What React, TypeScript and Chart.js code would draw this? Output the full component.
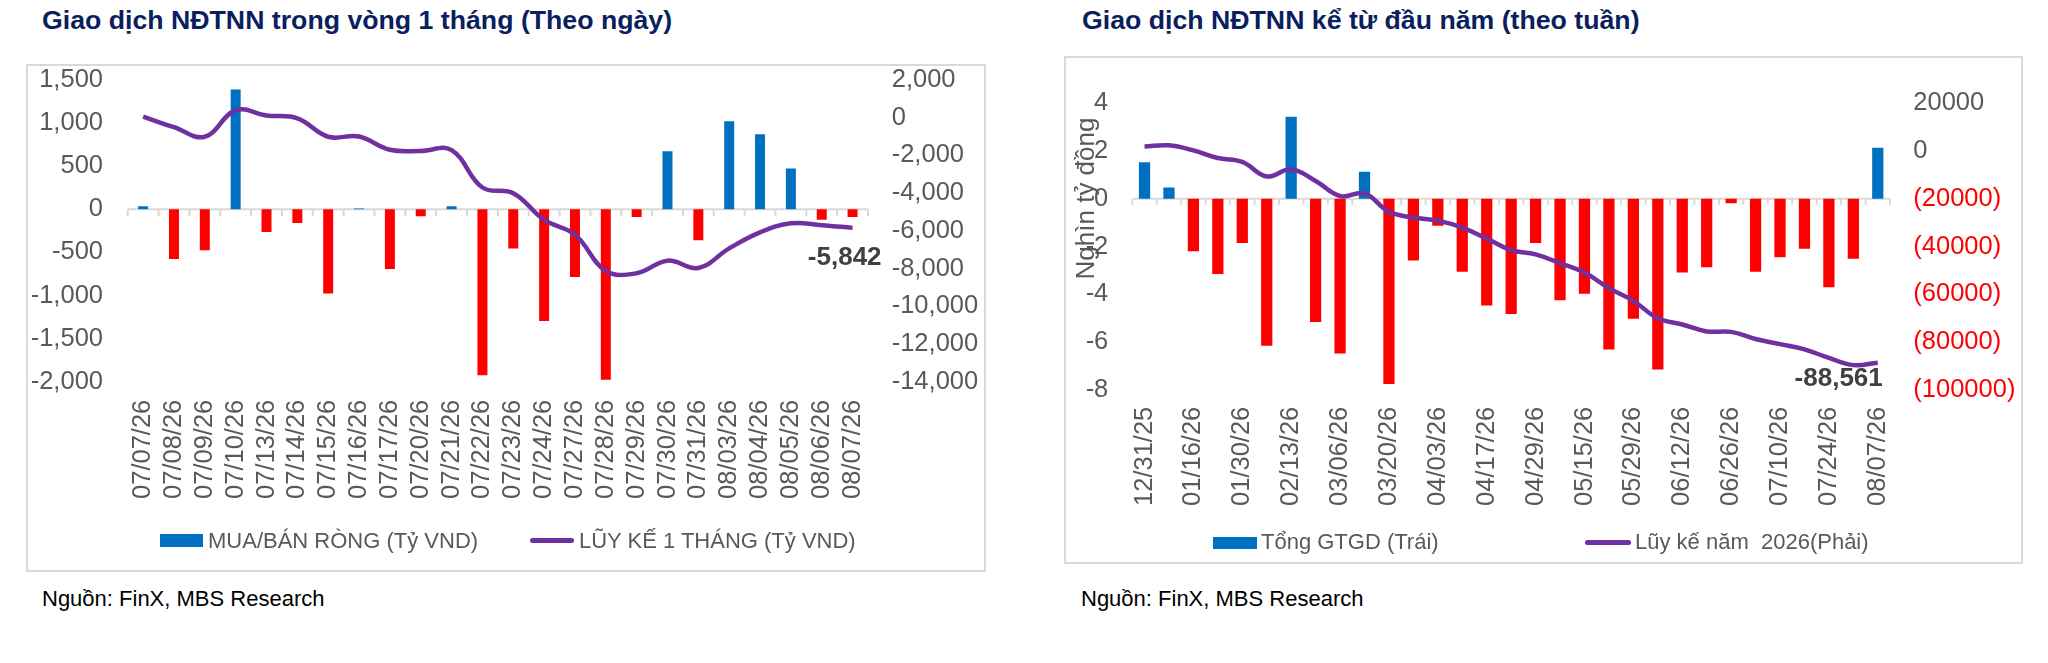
import React, { useEffect, useRef } from "react";
import { Chart, registerables } from "chart.js";

Chart.register(...registerables);

// ---------------- DATA ----------------
const dailyDates = [
  "07/07/26", "07/08/26", "07/09/26", "07/10/26", "07/13/26", "07/14/26",
  "07/15/26", "07/16/26", "07/17/26", "07/20/26", "07/21/26", "07/22/26",
  "07/23/26", "07/24/26", "07/27/26", "07/28/26", "07/29/26", "07/30/26",
  "07/31/26", "08/03/26", "08/04/26", "08/05/26", "08/06/26", "08/07/26",
];
const dailyNet = [
  35, -576, -476, 1389, -263, -159, -978, 8, -692, -81, 35, -1926,
  -456, -1296, -785, -1976, -89, 673, -360, 1021, 870, 472, -120, -89,
];
const dailyCumulative = [
  60, -500, -1010, 390, 115, -30, -1010, -1000, -1700, -1765, -1720, -3700,
  -4000, -5420, -6200, -8120, -8250, -7580, -7970, -6930, -6080, -5600, -5700, -5842,
];
const dailyLeftTicks = [1500, 1000, 500, 0, -500, -1000, -1500, -2000];
const dailyRightTicks = [2000, 0, -2000, -4000, -6000, -8000, -10000, -12000, -14000];

const weeklyDates = [
  "12/31/25", "01/09/26", "01/16/26", "01/23/26", "01/30/26", "02/06/26",
  "02/13/26", "02/27/26", "03/06/26", "03/13/26", "03/20/26", "03/27/26",
  "04/03/26", "04/10/26", "04/17/26", "04/24/26", "04/29/26", "05/08/26",
  "05/15/26", "05/22/26", "05/29/26", "06/05/26", "06/12/26", "06/19/26",
  "06/26/26", "07/03/26", "07/10/26", "07/17/26", "07/24/26", "07/31/26",
  "08/07/26",
];
const weeklyNet = [
  1.52, 0.47, -2.2, -3.15, -1.85, -6.15, 3.43, -5.16, -6.47, 1.13, -7.75,
  -2.59, -1.13, -3.06, -4.47, -4.82, -1.85, -4.25, -3.98, -6.31, -5.02,
  -7.14, -3.09, -2.87, -0.19, -3.06, -2.45, -2.09, -3.7, -2.51, 2.13,
];
const weeklyCumulative = [
  1800, 2300, 200, -3000, -4600, -10700, -7700, -12600, -18900, -17800, -25500,
  -27900, -29200, -32100, -36700, -41500, -43300, -47000, -50900, -57400, -62700,
  -70000, -72600, -75500, -75700, -78700, -80800, -83000, -86600, -89600, -88561,
];
const weeklyLeftTicks = [4, 2, 0, -2, -4, -6, -8];
const weeklyRightTicks = [20000, 0, -20000, -40000, -60000, -80000, -100000];

// ---------------- STYLE ----------------
const FONT = "'Liberation Sans', Arial, Helvetica, sans-serif";
const GRAY = "#595959";
const BLUE = "#0070C0";
const RED = "#FF0000";
const PURPLE = "#7030A0";
const AXIS = "#D9D9D9";
const NAVY = "#0B1F5E";
const LABEL = "#404040";

const fmtComma = (v: number) => Number(v).toLocaleString("en-US");
const fmtParen = (v: number) => (v < 0 ? `(${-v})` : `${v}`);

// ---------------- PLUGINS ----------------
const zeroAxis = {
  id: "zeroAxis",
  beforeDatasetsDraw(chart: any, _a: any, opts: any) {
    const xs = chart.scales.x;
    const ys = chart.scales.y;
    const n = chart.data.labels.length;
    const y0 = ys.getPixelForValue(0);
    const step = xs.getPixelForValue(1) - xs.getPixelForValue(0);
    const ctx = chart.ctx;
    ctx.save();
    ctx.strokeStyle = opts.color;
    ctx.lineWidth = opts.width;
    ctx.beginPath();
    ctx.moveTo(chart.chartArea.left, y0);
    ctx.lineTo(chart.chartArea.right, y0);
    for (let i = 0; i <= n; i++) {
      const px = xs.getPixelForValue(0) - step / 2 + i * step;
      ctx.moveTo(px, y0);
      ctx.lineTo(px, y0 + opts.tick);
    }
    ctx.stroke();
    ctx.restore();
  },
};

const lastLabel = {
  id: "lastLabel",
  afterDatasetsDraw(chart: any, _a: any, opts: any) {
    const meta = chart.getDatasetMeta(opts.datasetIndex);
    const pts = meta.data;
    const el = pts[pts.length - 1];
    const ds = chart.data.datasets[opts.datasetIndex].data;
    const v = ds[ds.length - 1];
    const ctx = chart.ctx;
    ctx.save();
    ctx.font = `bold ${opts.size}px ${FONT}`;
    ctx.fillStyle = LABEL;
    ctx.textAlign = "right";
    ctx.textBaseline = "middle";
    ctx.fillText(fmtComma(v), el.x + opts.dx, el.y + opts.dy);
    ctx.restore();
  },
};

const sideTitle = {
  id: "sideTitle",
  afterDraw(chart: any, _a: any, opts: any) {
    if (!opts || !opts.text) return;
    const ctx = chart.ctx;
    ctx.save();
    ctx.translate(opts.x, chart.chartArea.top + opts.dy);
    ctx.rotate(-Math.PI / 2);
    ctx.font = `${opts.size}px ${FONT}`;
    ctx.fillStyle = GRAY;
    ctx.textAlign = "center";
    ctx.textBaseline = "middle";
    ctx.fillText(opts.text, 0, 0);
    ctx.restore();
  },
};

const tickFont = { family: FONT, size: 25.5, lineHeight: 1 };

function yAxis(position: string, ticks: number[], width: number, gap: number, fmt: any, color: any) {
  return {
    position,
    min: Math.min(...ticks),
    max: Math.max(...ticks),
    grid: { display: false, drawOnChartArea: false, drawTicks: true, tickLength: gap, color: "rgba(0,0,0,0)" },
    border: { display: false },
    ticks: {
      stepSize: Math.abs(ticks[0] - ticks[1]),
      padding: 0,
      color,
      font: tickFont,
      callback: (v: number) => fmt(v),
    },
    afterFit: (s: any) => {
      s.width = width;
    },
  };
}

function xAxis(gap: number, height: number, callback?: any) {
  const ticks: any = {
    autoSkip: false,
    minRotation: 90,
    maxRotation: 90,
    padding: 0,
    color: GRAY,
    font: tickFont,
  };
  if (callback) ticks.callback = callback;
  return {
    grid: { display: false, drawOnChartArea: false, drawTicks: true, tickLength: gap, color: "rgba(0,0,0,0)" },
    border: { display: false },
    ticks,
    afterFit: (s: any) => {
      s.height = height;
    },
  };
}

function dailyConfig(): any {
  return {
    type: "bar",
    data: {
      labels: dailyDates,
      datasets: [
        {
          type: "line",
          label: "LŨY KẾ 1 THÁNG (Tỷ VND)",
          data: dailyCumulative,
          yAxisID: "y1",
          borderColor: PURPLE,
          borderWidth: 4.5,
          pointRadius: 0,
          tension: 0.4,
          fill: false,
          order: 0,
        },
        {
          type: "bar",
          label: "MUA/BÁN RÒNG (Tỷ VND)",
          data: dailyNet,
          yAxisID: "y",
          backgroundColor: dailyNet.map((v) => (v >= 0 ? BLUE : RED)),
          categoryPercentage: 1,
          barPercentage: 0.324,
          order: 1,
        },
      ],
    },
    options: {
      responsive: false,
      animation: false,
      devicePixelRatio: 1,
      layout: { autoPadding: false, padding: { top: 14, left: 0, right: 0, bottom: 0 } },
      plugins: {
        legend: { display: false },
        tooltip: { enabled: false },
        zeroAxis: { color: AXIS, width: 2, tick: 7 },
        lastLabel: { datasetIndex: 0, dx: 29, dy: 30, size: 26 },
      },
      scales: {
        x: xAxis(18, 188.3),
        y: yAxis("left", dailyLeftTicks, 99.7, 24.7, fmtComma, GRAY),
        y1: yAxis("right", dailyRightTicks, 116, 23.7, fmtComma, GRAY),
      },
    },
    plugins: [zeroAxis, lastLabel],
  };
}

function weeklyConfig(): any {
  return {
    type: "bar",
    data: {
      labels: weeklyDates,
      datasets: [
        {
          type: "line",
          label: "Lũy kế năm  2026(Phải)",
          data: weeklyCumulative,
          yAxisID: "y1",
          borderColor: PURPLE,
          borderWidth: 4.5,
          pointRadius: 0,
          tension: 0.4,
          fill: false,
          order: 0,
        },
        {
          type: "bar",
          label: "Tổng GTGD (Trái)",
          data: weeklyNet,
          yAxisID: "y",
          backgroundColor: weeklyNet.map((v) => (v >= 0 ? BLUE : RED)),
          categoryPercentage: 1,
          barPercentage: 0.46,
          order: 1,
        },
      ],
    },
    options: {
      responsive: false,
      animation: false,
      devicePixelRatio: 1,
      layout: { autoPadding: false, padding: { top: 45, left: 0, right: 0, bottom: 0 } },
      plugins: {
        legend: { display: false },
        tooltip: { enabled: false },
        zeroAxis: { color: AXIS, width: 2, tick: 6 },
        lastLabel: { datasetIndex: 0, dx: 5, dy: 16, size: 26 },
        sideTitle: { text: "Nghìn tỷ đồng", x: 20.5, dy: 95.5, size: 26 },
      },
      scales: {
        x: xAxis(16.7, 172, (_v: any, i: number) => (i % 2 === 0 ? weeklyDates[i] : "")),
        y: yAxis("left", weeklyLeftTicks, 66.3, 24, (v: number) => `${v}`, GRAY),
        y1: yAxis(
          "right",
          weeklyRightTicks,
          131,
          23.3,
          fmtParen,
          (c: any) => (c.tick && c.tick.value < 0 ? RED : GRAY)
        ),
      },
    },
    plugins: [zeroAxis, lastLabel, sideTitle],
  };
}

// ---------------- COMPONENTS ----------------
function ChartCanvas(props: { make: () => any; left: number; top: number; width: number; height: number }) {
  const ref = useRef<HTMLCanvasElement>(null);
  useEffect(() => {
    const chart = new Chart(ref.current as HTMLCanvasElement, props.make());
    return () => chart.destroy();
  }, []);
  return (
    <canvas
      ref={ref}
      width={props.width}
      height={props.height}
      style={{ position: "absolute", left: props.left, top: props.top, width: props.width, height: props.height }}
    />
  );
}

const abs = (left: number, top: number, extra: any = {}) => ({ position: "absolute" as const, left, top, ...extra });

const textStyle = (size: number, color: string, bold = false) => ({
  fontFamily: FONT,
  fontSize: size,
  lineHeight: "26px",
  color,
  fontWeight: bold ? "bold" : "normal",
  whiteSpace: "pre" as const,
});

function LegendBox({ left, top, w, h, color }: any) {
  return <div style={abs(left, top, { width: w, height: h, background: color })} />;
}
function LegendLine({ left, top, w, color }: any) {
  return <div style={abs(left, top, { width: w, height: 5, background: color, borderRadius: 2.5 })} />;
}

export default function App() {
  return (
    <div style={{ position: "absolute", left: 0, top: 0, width: 2048, height: 663, background: "#fff", overflow: "hidden" }}>
      {/* Titles */}
      <div style={abs(42, 4, { ...textStyle(26.7, NAVY, true), lineHeight: "32px" })}>
        Giao dịch NĐTNN trong vòng 1 tháng (Theo ngày)
      </div>
      <div style={abs(1082, 4, { ...textStyle(26.7, NAVY, true), lineHeight: "32px" })}>
        Giao dịch NĐTNN kể từ đầu năm (theo tuần)
      </div>

      {/* Panels */}
      <div style={abs(26, 64, { width: 956, height: 504, border: `2px solid ${AXIS}` })} />
      <div style={abs(1064, 56, { width: 955, height: 504, border: `2px solid ${AXIS}` })} />

      <ChartCanvas make={dailyConfig} left={28} top={66} width={956} height={504} />
      <ChartCanvas make={weeklyConfig} left={1066} top={58} width={955} height={504} />

      {/* Legend 1 */}
      <LegendBox left={160} top={534} w={43} h={13} color={BLUE} />
      <div style={abs(208, 528, textStyle(22, GRAY))}>MUA/BÁN RÒNG (Tỷ VND)</div>
      <LegendLine left={530} top={538} w={44} color={PURPLE} />
      <div style={abs(579, 528, textStyle(22, GRAY))}>LŨY KẾ 1 THÁNG (Tỷ VND)</div>

      {/* Legend 2 */}
      <LegendBox left={1213} top={537} w={44} h={12} color={BLUE} />
      <div style={abs(1261, 529, textStyle(22, GRAY))}>Tổng GTGD (Trái)</div>
      <LegendLine left={1585} top={540} w={46} color={PURPLE} />
      <div style={abs(1635, 529, textStyle(22, GRAY))}>Lũy kế năm  2026(Phải)</div>

      {/* Sources */}
      <div style={abs(42, 586, textStyle(22, "#000"))}>Nguồn: FinX, MBS Research</div>
      <div style={abs(1081, 586, textStyle(22, "#000"))}>Nguồn: FinX, MBS Research</div>
    </div>
  );
}
